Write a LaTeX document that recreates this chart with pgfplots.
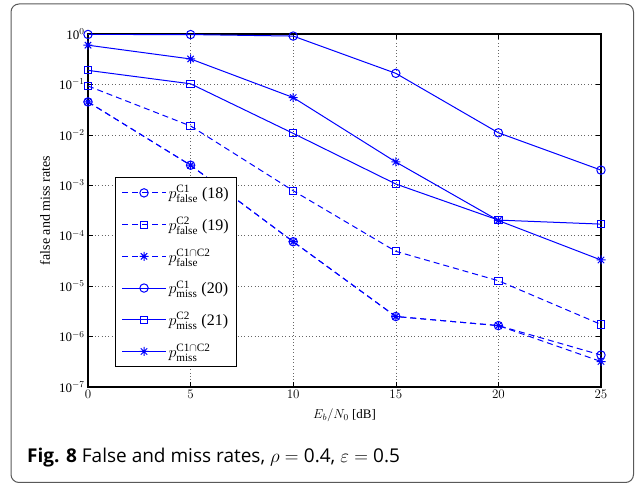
\RequirePackage{fix-cm}
\documentclass[border=0pt]{standalone}
\usepackage{pgfplots}
\pgfplotsset{compat=1.18}
\usepackage{fontspec}
\setmainfont{Liberation Serif}
\newfontfamily\capfont{Open Sans}
\definecolor{mblue}{RGB}{0,0,255}
\pgfdeclareplotmark{ast8}{%
  \pgfpathmoveto{\pgfqpoint{0pt}{\pgfplotmarksize}}\pgfpathlineto{\pgfqpoint{0pt}{-\pgfplotmarksize}}%
  \pgfpathmoveto{\pgfqpoint{\pgfplotmarksize}{0pt}}\pgfpathlineto{\pgfqpoint{-\pgfplotmarksize}{0pt}}%
  \pgfpathmoveto{\pgfqpoint{0.707\pgfplotmarksize}{0.707\pgfplotmarksize}}\pgfpathlineto{\pgfqpoint{-0.707\pgfplotmarksize}{-0.707\pgfplotmarksize}}%
  \pgfpathmoveto{\pgfqpoint{-0.707\pgfplotmarksize}{0.707\pgfplotmarksize}}\pgfpathlineto{\pgfqpoint{0.707\pgfplotmarksize}{-0.707\pgfplotmarksize}}%
  \pgfusepathqstroke}
\begin{document}
\begin{tikzpicture}[x=1pt,y=1pt]
\useasboundingbox (0,0) rectangle (635,484);
\draw[black!65, line width=1pt, rounded corners=8pt] (11,1.5) rectangle (633.5,480);
\begin{axis}[
  at={(88pt,97pt)}, anchor=south west,
  scale only axis, width=513pt, height=353pt,
  xmin=0, xmax=25, ymin=1e-7, ymax=1,
  ymode=log, log basis y=10,
  xtick={0,5,10,15,20,25},
  ytick={1e-7,1e-6,1e-5,1e-4,1e-3,1e-2,1e-1,1},
  yticklabel={10$^{\pgfmathparse{int(round(\tick))}\pgfmathresult}$},
  tick label style={font=\fontsize{13}{15}\selectfont},
  grid=both,
  major grid style={black!60, line width=0.6pt, dash pattern=on 0.8pt off 2.6pt},
  minor grid style={black!60, line width=0.6pt, dash pattern=on 0.8pt off 2.6pt},
  tick align=inside,
  major tick length=5pt, minor tick length=3pt,
  every tick/.style={black, line width=0.6pt},
  axis line style={line width=1.1pt},
  xlabel={$E_b/N_0$ [dB]},
  ylabel={false and miss rates},
  xlabel style={font=\fontsize{13}{15}\selectfont, at={(axis description cs:0.5,-0.079)}, anchor=center},
  ylabel style={font=\fontsize{14}{16}\selectfont, at={(axis description cs:-0.084,0.5)}, anchor=center},
  legend style={at={(axis description cs:0.0526,0.595)}, anchor=north west,
    draw=black, line width=1.1pt, font=\fontsize{16}{18}\selectfont,
    row sep=13pt, inner xsep=6pt, inner ysep=6pt,
    nodes={line width=1pt, inner xsep=2pt}},
  legend cell align=left,
  legend image code/.code={\draw[mblue, line width=1pt, mark repeat=2,mark phase=2,#1] plot coordinates {(0pt,0pt)(22pt,0pt)(44pt,0pt)};},
  every axis plot/.append style={mblue, line width=1pt},
  dsh/.style={dash pattern=on 6pt off 4pt},
]
\addplot[mblue, dsh, mark=o, mark size=4.2pt, mark options={solid}] coordinates {(0,0.045)(5,0.0025)(10,7.6e-5)(15,2.5e-6)(20,1.65e-6)(25,4.3e-7)};
\addlegendentry{$p_{\mathrm{false}}^{\mathrm{C1}}$ (18)\hspace{4pt}}
\addplot[mblue, dsh, mark=square, mark size=3.6pt, mark options={solid}] coordinates {(0,0.093)(5,0.015)(10,7.8e-4)(15,4.9e-5)(20,1.28e-5)(25,1.74e-6)};
\addlegendentry{$p_{\mathrm{false}}^{\mathrm{C2}}$ (19)}
\addplot[mblue, dsh, mark=ast8, mark size=4.5pt, mark options={solid}] coordinates {(0,0.045)(5,0.0025)(10,7.6e-5)(15,2.5e-6)(20,1.65e-6)(25,3.2e-7)};
\addlegendentry{$p_{\mathrm{false}}^{\mathrm{C1}\cap\mathrm{C2}}$}
\addplot[mblue, mark=o, mark size=4.2pt] coordinates {(0,0.98)(5,0.975)(10,0.91)(15,0.166)(20,0.011)(25,0.002)};
\addlegendentry{$p_{\mathrm{miss}}^{\mathrm{C1}}$ (20)}
\addplot[mblue, mark=square, mark size=3.6pt] coordinates {(0,0.19)(5,0.103)(10,0.0107)(15,1.06e-3)(20,2.04e-4)(25,1.7e-4)};
\addlegendentry{$p_{\mathrm{miss}}^{\mathrm{C2}}$ (21)}
\addplot[mblue, mark=ast8, mark size=4.5pt] coordinates {(0,0.6)(5,0.32)(10,0.055)(15,2.9e-3)(20,2.0e-4)(25,3.3e-5)};
\addlegendentry{$p_{\mathrm{miss}}^{\mathrm{C1}\cap\mathrm{C2}}$}
\end{axis}
\node[anchor=west, inner sep=0pt] at (27,26) {\capfont\fontsize{19}{22}\selectfont\textbf{Fig. 8} False and miss rates, $\rho = {}$0.4, $\varepsilon = {}$0.5};
\end{tikzpicture}
\end{document}
